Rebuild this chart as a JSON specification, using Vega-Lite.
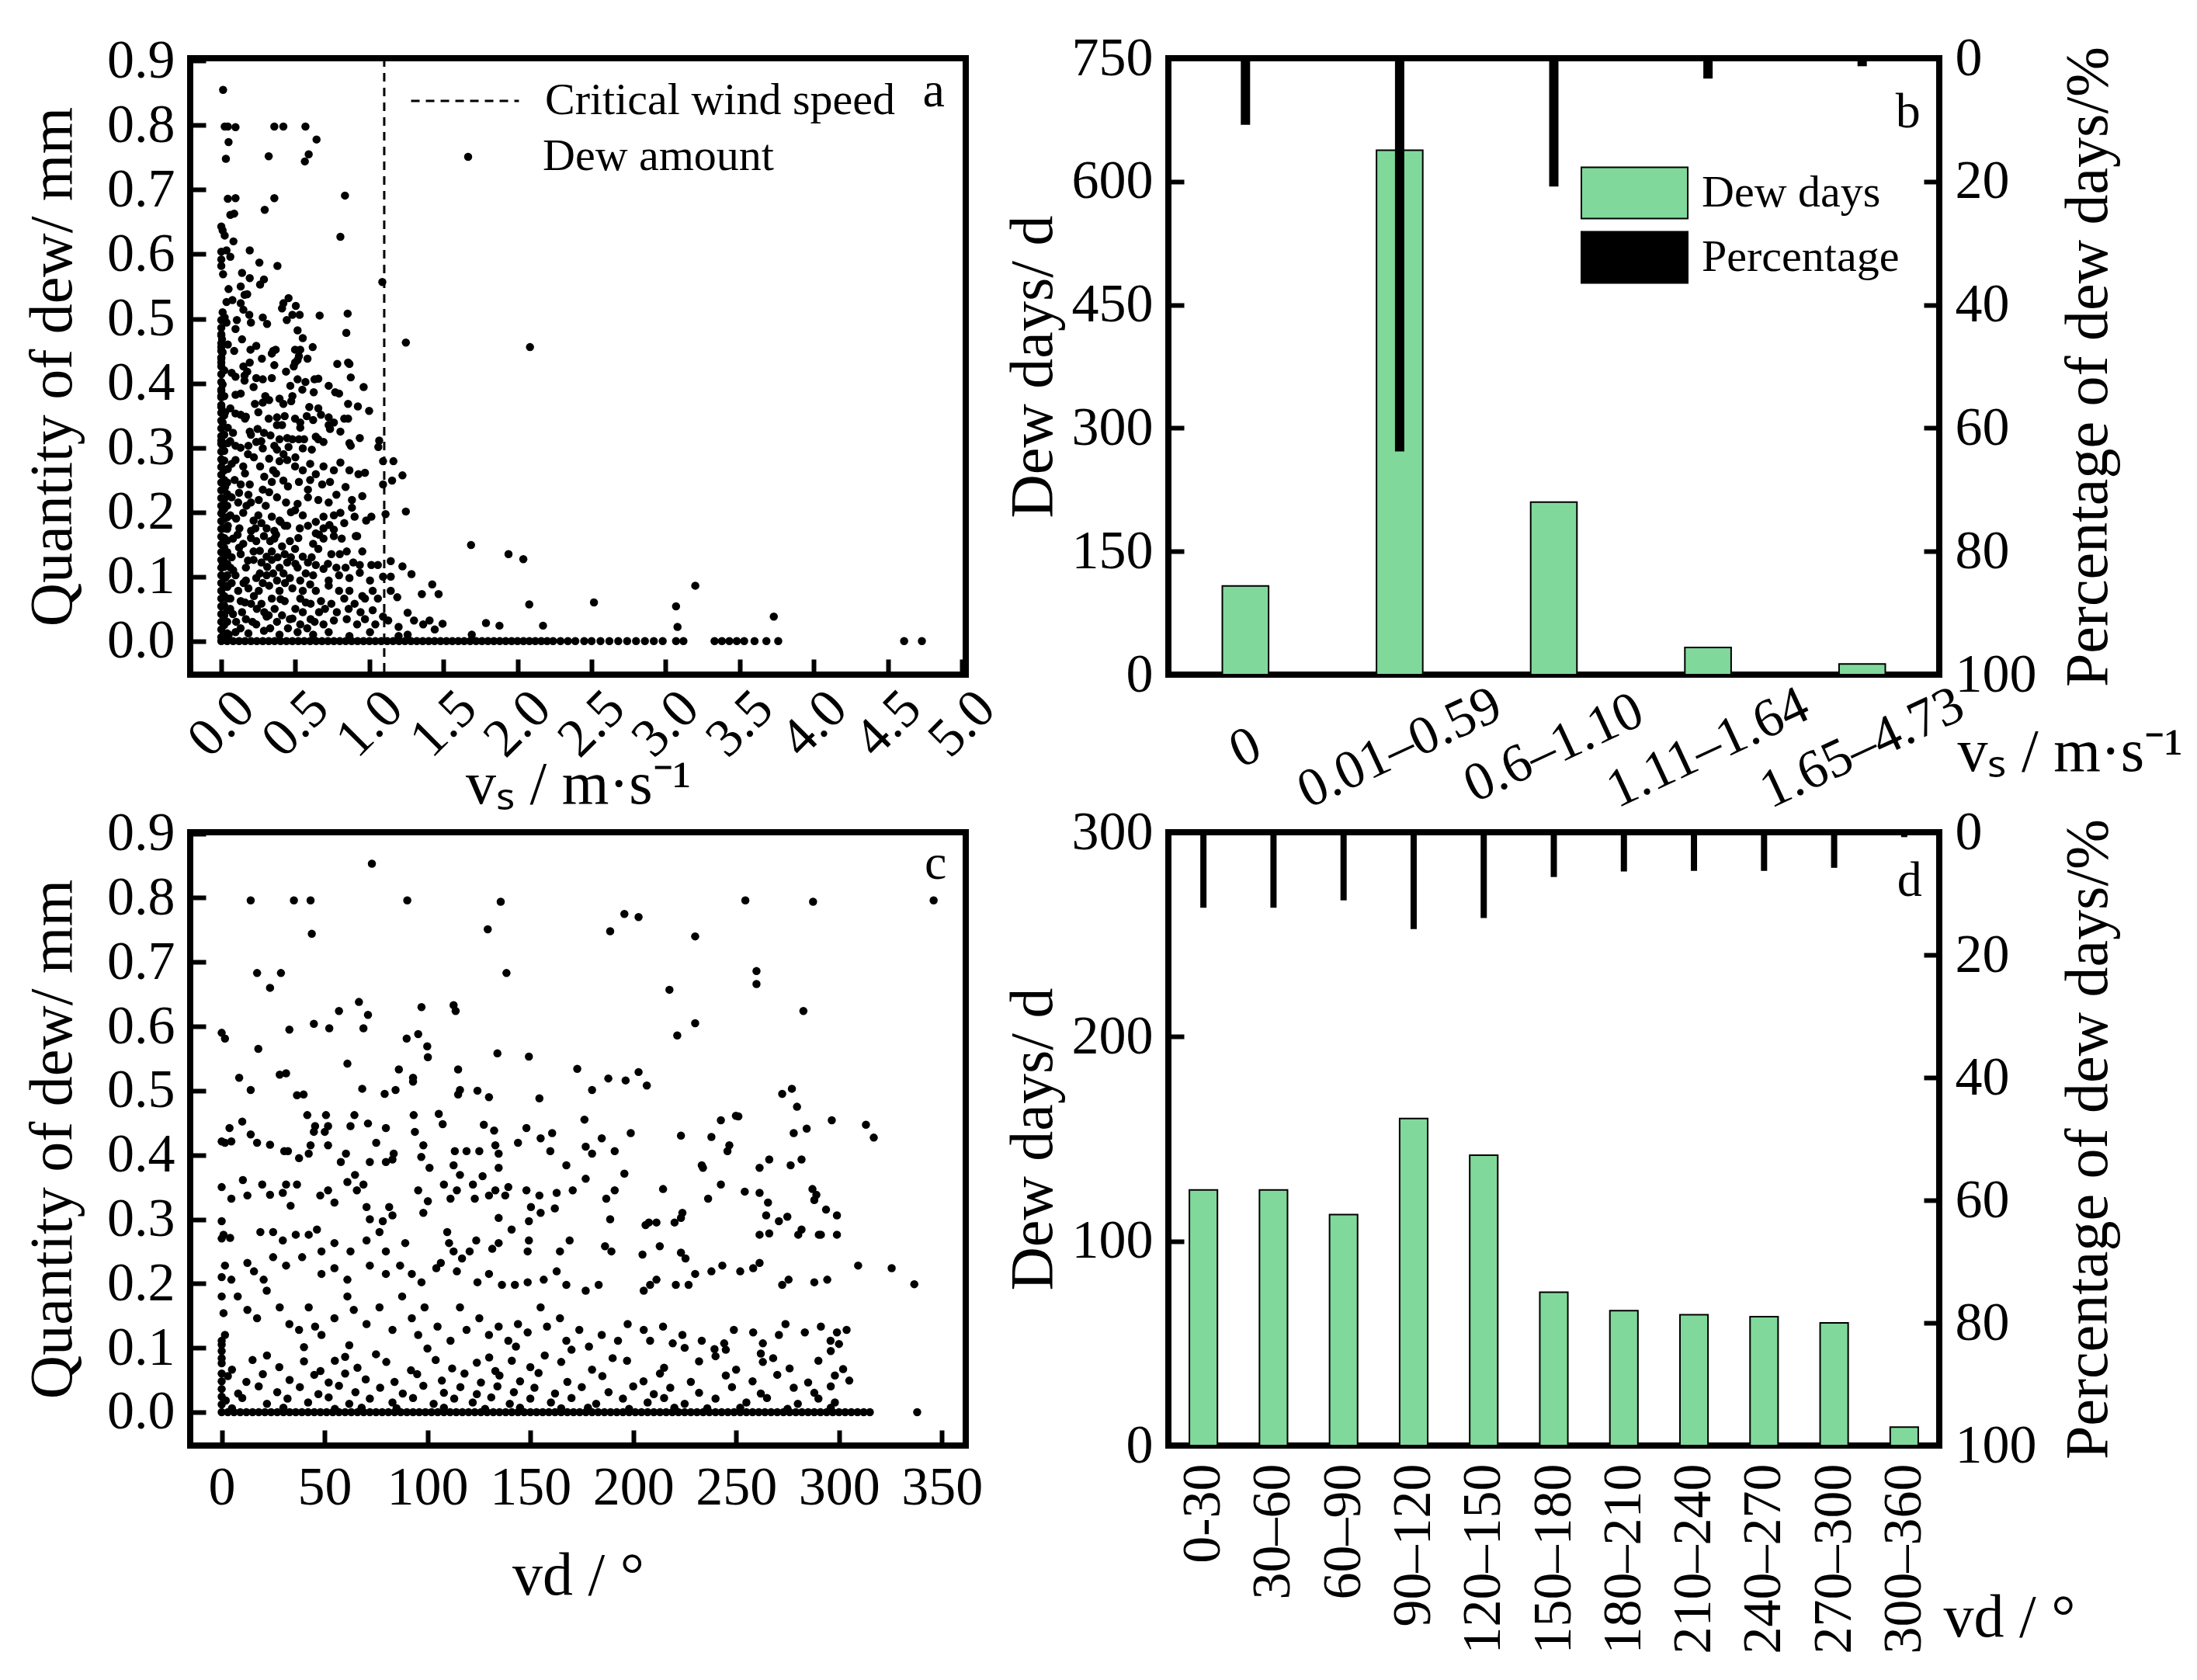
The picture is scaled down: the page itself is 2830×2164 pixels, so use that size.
{
  "$schema": "https://vega.github.io/schema/vega-lite/v6.json",
  "background": "white",
  "padding": {"left": 25, "top": 36, "right": 5, "bottom": 5},
  "config": {
    "font": "Liberation Serif",
    "view": {"stroke": "black", "strokeWidth": 8},
    "axis": {
      "domain": false, "grid": false,
      "labelFont": "Liberation Serif", "labelFontSize": 70, "labelColor": "black",
      "labelOverlap": false, "labelFlush": false, "labelPadding": 40, "labelLimit": 800,
      "tickColor": "black", "tickWidth": 6, "tickSize": -20,
      "titleFont": "Liberation Serif", "titleFontSize": 78, "titleFontWeight": "normal", "titleColor": "black"
    },
    "legend": {"labelFont": "Liberation Serif", "labelFontSize": 58, "labelColor": "black", "labelLimit": 700, "padding": 0},
    "text": {"font": "Liberation Serif", "fontSize": 64, "color": "black"}
  },
  "datasets": {
    "barsB": [
      {"range": "0", "days": 108, "pct": 10.8},
      {"range": "0.01–0.59", "days": 638, "pct": 63.8},
      {"range": "0.6–1.10", "days": 210, "pct": 20.8},
      {"range": "1.11–1.64", "days": 33, "pct": 3.3},
      {"range": "1.65–4.73", "days": 13, "pct": 1.3}
    ],
    "barsD": [
      {"range": "0-30", "days": 125, "pct": 12.3},
      {"range": "30–60", "days": 125, "pct": 12.3},
      {"range": "60–90", "days": 113, "pct": 11.1},
      {"range": "90–120", "days": 160, "pct": 15.8},
      {"range": "120–150", "days": 142, "pct": 14.0},
      {"range": "150–180", "days": 75, "pct": 7.3},
      {"range": "180–210", "days": 66, "pct": 6.4},
      {"range": "210–240", "days": 64, "pct": 6.3},
      {"range": "240–270", "days": 63, "pct": 6.3},
      {"range": "270–300", "days": 60, "pct": 5.8},
      {"range": "300–360", "days": 9, "pct": 0.8}
    ],
    "scatterA": [
      {"vs":0.012,"dew":0.855},{"vs":0.023,"dew":0.798},{"vs":0.044,"dew":0.798},{"vs":0.096,"dew":0.797},{"vs":0.358,"dew":0.798},{"vs":0.419,"dew":0.798},{"vs":0.568,"dew":0.798},{"vs":0.643,"dew":0.778},{"vs":0.049,"dew":0.774},{"vs":0.031,"dew":0.748},{"vs":0.32,"dew":0.752},{"vs":0.59,"dew":0.755},{"vs":0.564,"dew":0.744},{"vs":0.835,"dew":0.691},{"vs":0.044,"dew":0.686},{"vs":0.096,"dew":0.687},{"vs":0.358,"dew":0.687},{"vs":0.293,"dew":0.669},{"vs":0.061,"dew":0.661},{"vs":0.087,"dew":0.663},{"vs":0.804,"dew":0.627},{"vs":0.0,"dew":0.643},{"vs":0.009,"dew":0.637},{"vs":0.023,"dew":0.629},{"vs":0.082,"dew":0.62},{"vs":0.192,"dew":0.606},{"vs":0.0,"dew":0.604},{"vs":0.035,"dew":0.606},{"vs":0.061,"dew":0.596},{"vs":0.0,"dew":0.592},{"vs":0.0,"dew":0.582},{"vs":0.257,"dew":0.587},{"vs":0.379,"dew":0.582},{"vs":0.012,"dew":0.569},{"vs":0.14,"dew":0.571},{"vs":0.192,"dew":0.563},{"vs":0.288,"dew":0.561},{"vs":0.262,"dew":0.553},{"vs":1.087,"dew":0.557},{"vs":0.049,"dew":0.546},{"vs":0.131,"dew":0.55},{"vs":0.157,"dew":0.537},{"vs":0.175,"dew":0.538},{"vs":0.454,"dew":0.532},{"vs":0.419,"dew":0.524},{"vs":0.41,"dew":0.516},{"vs":0.035,"dew":0.526},{"vs":0.075,"dew":0.529},{"vs":0.131,"dew":0.524},{"vs":0.149,"dew":0.514},{"vs":0.503,"dew":0.52},{"vs":0.48,"dew":0.506},{"vs":0.529,"dew":0.506},{"vs":0.664,"dew":0.505},{"vs":0.853,"dew":0.508},{"vs":0.009,"dew":0.51},{"vs":0.023,"dew":0.502},{"vs":0.035,"dew":0.494},{"vs":0.189,"dew":0.506},{"vs":0.2,"dew":0.494},{"vs":0.105,"dew":0.498},{"vs":0.28,"dew":0.502},{"vs":0.309,"dew":0.492},{"vs":0.442,"dew":0.498},{"vs":0.096,"dew":0.484},{"vs":0.515,"dew":0.482},{"vs":0.844,"dew":0.478},{"vs":0.0,"dew":0.476},{"vs":0.005,"dew":0.468},{"vs":0.55,"dew":0.47},{"vs":0.14,"dew":0.468},{"vs":1.246,"dew":0.463},{"vs":2.084,"dew":0.456},
      {"vs":0.0,"dew":0.456},{"vs":0.009,"dew":0.448},{"vs":0.0,"dew":0.44},{"vs":0.0,"dew":0.432},{"vs":0.044,"dew":0.46},{"vs":0.087,"dew":0.45},{"vs":0.197,"dew":0.452},{"vs":0.236,"dew":0.458},{"vs":0.35,"dew":0.45},{"vs":0.367,"dew":0.452},{"vs":0.498,"dew":0.452},{"vs":0.533,"dew":0.452},{"vs":0.617,"dew":0.456},{"vs":0.274,"dew":0.438},{"vs":0.341,"dew":0.446},{"vs":0.524,"dew":0.442},{"vs":0.515,"dew":0.436},{"vs":0.582,"dew":0.438},{"vs":0.358,"dew":0.428},{"vs":0.437,"dew":0.418},{"vs":0.489,"dew":0.426},{"vs":0.498,"dew":0.432},{"vs":0.783,"dew":0.43},{"vs":0.856,"dew":0.432},{"vs":0.865,"dew":0.43},{"vs":0.874,"dew":0.409},{"vs":0.149,"dew":0.426},{"vs":0.192,"dew":0.432},{"vs":0.175,"dew":0.418},{"vs":0.157,"dew":0.412},{"vs":0.157,"dew":0.404},{"vs":0.07,"dew":0.416},{"vs":0.096,"dew":0.41},{"vs":0.236,"dew":0.408},{"vs":0.28,"dew":0.406},{"vs":0.341,"dew":0.408},{"vs":0.515,"dew":0.406},{"vs":0.568,"dew":0.402},{"vs":0.629,"dew":0.406},{"vs":0.655,"dew":0.407},{"vs":0.466,"dew":0.396},{"vs":0.547,"dew":0.39},{"vs":0.624,"dew":0.386},{"vs":0.725,"dew":0.396},{"vs":0.769,"dew":0.386},{"vs":0.795,"dew":0.384},{"vs":0.961,"dew":0.394},{"vs":0.009,"dew":0.398},{"vs":0.0,"dew":0.388},{"vs":0.0,"dew":0.38},{"vs":0.096,"dew":0.382},{"vs":0.131,"dew":0.384},{"vs":0.218,"dew":0.394},{"vs":0.297,"dew":0.38},{"vs":0.323,"dew":0.374},{"vs":0.227,"dew":0.368},{"vs":0.28,"dew":0.37},{"vs":0.393,"dew":0.376},{"vs":0.419,"dew":0.368},{"vs":0.472,"dew":0.372},{"vs":0.48,"dew":0.38},{"vs":0.856,"dew":0.368},{"vs":0.922,"dew":0.364},{"vs":0.998,"dew":0.357},{"vs":0.594,"dew":0.363},{"vs":0.655,"dew":0.361},{"vs":0.0,"dew":0.363},{"vs":0.026,"dew":0.355},{"vs":0.061,"dew":0.361},{"vs":0.096,"dew":0.353},{"vs":0.131,"dew":0.351},{"vs":0.166,"dew":0.348},{"vs":0.376,"dew":0.347},{"vs":0.428,"dew":0.349},{"vs":0.498,"dew":0.345},{"vs":0.533,"dew":0.339},{"vs":0.577,"dew":0.349},{"vs":0.62,"dew":0.343},{"vs":0.673,"dew":0.351},{"vs":0.725,"dew":0.347},{"vs":0.725,"dew":0.335},{"vs":0.76,"dew":0.339},{"vs":0.83,"dew":0.345},{"vs":0.856,"dew":0.345},{"vs":0.376,"dew":0.335},{"vs":0.41,"dew":0.335},{"vs":0.533,"dew":0.331},{"vs":0.009,"dew":0.339},{"vs":0.044,"dew":0.331},{"vs":0.079,"dew":0.323},{"vs":0.192,"dew":0.325},{"vs":0.245,"dew":0.329},{"vs":0.288,"dew":0.323},{"vs":0.332,"dew":0.319},{"vs":0.734,"dew":0.329},{"vs":0.804,"dew":0.325},{"vs":0.935,"dew":0.315},{"vs":0.393,"dew":0.313},{"vs":0.445,"dew":0.315},{"vs":0.48,"dew":0.313},{"vs":0.524,"dew":0.313},{"vs":0.559,"dew":0.313},{"vs":0.638,"dew":0.317},{"vs":0.655,"dew":0.313},{"vs":0.69,"dew":0.309},{"vs":0.865,"dew":0.307},{"vs":0.874,"dew":0.303},{"vs":1.066,"dew":0.311},{"vs":1.06,"dew":0.301},{"vs":0.0,"dew":0.311},{"vs":0.009,"dew":0.303},{"vs":0.044,"dew":0.307},{"vs":0.096,"dew":0.303},{"vs":0.183,"dew":0.303},{"vs":0.236,"dew":0.309},{"vs":0.28,"dew":0.299},{"vs":0.358,"dew":0.303},{"vs":0.376,"dew":0.297},{"vs":0.454,"dew":0.301},{"vs":0.55,"dew":0.299},{"vs":0.611,"dew":0.297},
      {"vs":0.009,"dew":0.279},{"vs":0.044,"dew":0.267},{"vs":0.096,"dew":0.281},{"vs":0.148,"dew":0.271},{"vs":0.262,"dew":0.271},{"vs":0.323,"dew":0.283},{"vs":0.393,"dew":0.279},{"vs":0.445,"dew":0.281},{"vs":0.498,"dew":0.271},{"vs":0.55,"dew":0.265},{"vs":0.638,"dew":0.259},{"vs":0.69,"dew":0.271},{"vs":0.76,"dew":0.265},{"vs":0.804,"dew":0.277},{"vs":0.865,"dew":0.265},{"vs":0.926,"dew":0.259},{"vs":0.97,"dew":0.261},{"vs":1.092,"dew":0.279},{"vs":1.162,"dew":0.279},{"vs":1.092,"dew":0.243},{"vs":1.223,"dew":0.257},{"vs":1.153,"dew":0.249},
      {"vs":0.026,"dew":0.239},{"vs":0.131,"dew":0.243},{"vs":0.192,"dew":0.243},{"vs":0.341,"dew":0.247},{"vs":0.419,"dew":0.249},{"vs":0.524,"dew":0.247},{"vs":0.585,"dew":0.235},{"vs":0.681,"dew":0.243},{"vs":0.734,"dew":0.247},{"vs":0.839,"dew":0.239},{"vs":0.952,"dew":0.225},{"vs":0.07,"dew":0.223},{"vs":0.114,"dew":0.215},{"vs":0.183,"dew":0.227},{"vs":0.253,"dew":0.219},{"vs":0.323,"dew":0.231},{"vs":0.376,"dew":0.223},{"vs":0.437,"dew":0.215},{"vs":0.515,"dew":0.213},{"vs":0.585,"dew":0.223},{"vs":0.655,"dew":0.219},{"vs":0.725,"dew":0.215},{"vs":0.777,"dew":0.227},{"vs":0.882,"dew":0.219},
      {"vs":0.009,"dew":0.203},{"vs":0.061,"dew":0.195},{"vs":0.148,"dew":0.199},{"vs":0.218,"dew":0.187},{"vs":0.271,"dew":0.183},{"vs":0.341,"dew":0.193},{"vs":0.393,"dew":0.187},{"vs":0.428,"dew":0.179},{"vs":0.498,"dew":0.203},{"vs":0.55,"dew":0.195},{"vs":0.638,"dew":0.185},{"vs":0.69,"dew":0.193},{"vs":0.76,"dew":0.195},{"vs":0.804,"dew":0.199},{"vs":0.882,"dew":0.207},{"vs":0.9,"dew":0.193},{"vs":0.978,"dew":0.187},{"vs":1.013,"dew":0.193},{"vs":1.109,"dew":0.197},{"vs":1.246,"dew":0.201},{"vs":0.044,"dew":0.179},{"vs":0.122,"dew":0.175},{"vs":0.201,"dew":0.171},{"vs":0.306,"dew":0.175},{"vs":0.358,"dew":0.171},{"vs":0.445,"dew":0.179},{"vs":0.585,"dew":0.179},{"vs":0.69,"dew":0.175},{"vs":0.76,"dew":0.173},{"vs":0.83,"dew":0.183},{"vs":0.908,"dew":0.163},
      {"vs":0.017,"dew":0.155},{"vs":0.079,"dew":0.159},{"vs":0.148,"dew":0.151},{"vs":0.236,"dew":0.155},{"vs":0.288,"dew":0.163},{"vs":0.358,"dew":0.159},{"vs":0.41,"dew":0.147},{"vs":0.463,"dew":0.155},{"vs":0.62,"dew":0.151},{"vs":0.69,"dew":0.159},{"vs":0.76,"dew":0.163},{"vs":0.813,"dew":0.159},{"vs":0.917,"dew":0.163},{"vs":0.638,"dew":0.167},{"vs":0.131,"dew":0.135},{"vs":0.218,"dew":0.139},{"vs":0.306,"dew":0.131},{"vs":0.341,"dew":0.139},{"vs":0.428,"dew":0.135},{"vs":0.498,"dew":0.143},{"vs":0.55,"dew":0.131},{"vs":0.655,"dew":0.143},{"vs":0.743,"dew":0.135},{"vs":0.847,"dew":0.139},{"vs":0.952,"dew":0.139},{"vs":1.686,"dew":0.149},
      {"vs":0.009,"dew":0.122},{"vs":0.061,"dew":0.114},{"vs":0.166,"dew":0.114},{"vs":0.218,"dew":0.126},{"vs":0.271,"dew":0.122},{"vs":0.341,"dew":0.126},{"vs":0.393,"dew":0.114},{"vs":0.445,"dew":0.122},{"vs":0.515,"dew":0.114},{"vs":0.585,"dew":0.122},{"vs":0.638,"dew":0.118},{"vs":0.69,"dew":0.112},{"vs":0.777,"dew":0.114},{"vs":0.839,"dew":0.114},{"vs":0.891,"dew":0.122},{"vs":0.935,"dew":0.118},{"vs":1.013,"dew":0.118},{"vs":1.057,"dew":0.118},{"vs":1.144,"dew":0.124},{"vs":1.223,"dew":0.116},{"vs":1.284,"dew":0.104},{"vs":1.939,"dew":0.135},{"vs":2.039,"dew":0.127},{"vs":0.026,"dew":0.098},{"vs":0.096,"dew":0.102},{"vs":0.166,"dew":0.094},{"vs":0.236,"dew":0.098},{"vs":0.306,"dew":0.102},{"vs":0.376,"dew":0.094},{"vs":0.463,"dew":0.098},{"vs":0.533,"dew":0.094},{"vs":0.62,"dew":0.102},{"vs":0.725,"dew":0.094},{"vs":0.795,"dew":0.102},{"vs":0.865,"dew":0.098},{"vs":0.935,"dew":0.106},{"vs":1.004,"dew":0.094},{"vs":1.092,"dew":0.1},{"vs":1.144,"dew":0.1},
      {"vs":0.044,"dew":0.086},{"vs":0.114,"dew":0.078},{"vs":0.183,"dew":0.082},{"vs":0.253,"dew":0.078},{"vs":0.323,"dew":0.086},{"vs":0.393,"dew":0.078},{"vs":0.48,"dew":0.082},{"vs":0.55,"dew":0.078},{"vs":0.638,"dew":0.078},{"vs":0.725,"dew":0.086},{"vs":0.795,"dew":0.078},{"vs":0.865,"dew":0.078},{"vs":0.952,"dew":0.07},{"vs":1.022,"dew":0.078},{"vs":1.144,"dew":0.078},{"vs":1.188,"dew":0.068},{"vs":1.424,"dew":0.088},{"vs":1.467,"dew":0.073},{"vs":1.354,"dew":0.073},{"vs":2.079,"dew":0.057},{"vs":2.516,"dew":0.06},{"vs":0.061,"dew":0.066},{"vs":0.131,"dew":0.062},{"vs":0.201,"dew":0.058},{"vs":0.271,"dew":0.058},{"vs":0.341,"dew":0.066},{"vs":0.428,"dew":0.062},{"vs":0.533,"dew":0.066},{"vs":0.603,"dew":0.058},{"vs":0.673,"dew":0.062},{"vs":0.743,"dew":0.058},{"vs":0.83,"dew":0.066},{"vs":0.9,"dew":0.058},{"vs":0.97,"dew":0.066},{"vs":1.022,"dew":0.048},{"vs":1.057,"dew":0.066},
      {"vs":0.079,"dew":0.042},{"vs":0.166,"dew":0.034},{"vs":0.236,"dew":0.026},{"vs":0.306,"dew":0.038},{"vs":0.376,"dew":0.03},{"vs":0.463,"dew":0.034},{"vs":0.533,"dew":0.026},{"vs":0.603,"dew":0.034},{"vs":0.69,"dew":0.026},{"vs":0.76,"dew":0.032},{"vs":0.847,"dew":0.034},{"vs":0.917,"dew":0.026},{"vs":0.97,"dew":0.034},{"vs":1.04,"dew":0.026},{"vs":1.092,"dew":0.038},{"vs":1.127,"dew":0.032},{"vs":1.197,"dew":0.022},{"vs":1.258,"dew":0.044},{"vs":1.301,"dew":0.032},{"vs":1.363,"dew":0.026},{"vs":1.406,"dew":0.032},{"vs":1.494,"dew":0.027},{"vs":1.441,"dew":0.018},{"vs":1.787,"dew":0.028},{"vs":1.878,"dew":0.024},{"vs":2.172,"dew":0.024},{"vs":1.691,"dew":0.01},{"vs":1.197,"dew":0.008},{"vs":1.258,"dew":0.01},{"vs":0.096,"dew":0.014},{"vs":0.183,"dew":0.012},{"vs":0.288,"dew":0.016},{"vs":0.393,"dew":0.01},{"vs":0.515,"dew":0.014},{"vs":0.62,"dew":0.01},{"vs":0.725,"dew":0.014},{"vs":0.865,"dew":0.008},{"vs":1.004,"dew":0.014},
      {"vs":3.2,"dew":0.086},{"vs":3.07,"dew":0.054},{"vs":3.08,"dew":0.022},{"vs":3.73,"dew":0.038},
      {"vs":0.07,"dew":0.13},{"vs":0.12,"dew":0.145},{"vs":0.2,"dew":0.16},{"vs":0.26,"dew":0.14},{"vs":0.31,"dew":0.115},{"vs":0.37,"dew":0.165},{"vs":0.42,"dew":0.105},{"vs":0.47,"dew":0.13},{"vs":0.52,"dew":0.16},{"vs":0.57,"dew":0.105},{"vs":0.06,"dew":0.05},{"vs":0.14,"dew":0.045},{"vs":0.22,"dew":0.07},{"vs":0.29,"dew":0.045},{"vs":0.36,"dew":0.05},{"vs":0.41,"dew":0.04},{"vs":0.5,"dew":0.05},{"vs":0.57,"dew":0.06},{"vs":0.66,"dew":0.045},{"vs":0.13,"dew":0.02},{"vs":0.21,"dew":0.03},{"vs":0.33,"dew":0.02},{"vs":0.45,"dew":0.02},{"vs":0.58,"dew":0.02},{"vs":0.07,"dew":0.09},{"vs":0.15,"dew":0.09},{"vs":0.28,"dew":0.09},{"vs":0.35,"dew":0.105},{"vs":0.43,"dew":0.09},{"vs":0.6,"dew":0.088},{"vs":0.1,"dew":0.19},{"vs":0.17,"dew":0.21},{"vs":0.25,"dew":0.195},{"vs":0.3,"dew":0.21},{"vs":0.47,"dew":0.2},{"vs":0.09,"dew":0.25},{"vs":0.16,"dew":0.26},{"vs":0.22,"dew":0.285},{"vs":0.29,"dew":0.255},{"vs":0.37,"dew":0.26},{"vs":0.06,"dew":0.31},{"vs":0.13,"dew":0.3},{"vs":0.2,"dew":0.32},
      {"vs":0.05,"dew":0.01},{"vs":0.1,"dew":0.03},{"vs":0.16,"dew":0.06},{"vs":0.24,"dew":0.05},{"vs":0.32,"dew":0.04},{"vs":0.4,"dew":0.065},{"vs":0.48,"dew":0.035},{"vs":0.55,"dew":0.045},{"vs":0.63,"dew":0.03},{"vs":0.7,"dew":0.05},{"vs":0.78,"dew":0.045},{"vs":0.86,"dew":0.05},{"vs":0.94,"dew":0.045},{"vs":0.08,"dew":0.11},{"vs":0.18,"dew":0.125},{"vs":0.26,"dew":0.105},{"vs":0.38,"dew":0.13},{"vs":0.5,"dew":0.12},{"vs":0.61,"dew":0.13},{"vs":0.72,"dew":0.12},{"vs":0.8,"dew":0.135},{"vs":0.11,"dew":0.165},{"vs":0.23,"dew":0.175},{"vs":0.33,"dew":0.155},{"vs":0.4,"dew":0.185},{"vs":0.53,"dew":0.175},{"vs":0.66,"dew":0.165},{"vs":0.73,"dew":0.18},{"vs":0.12,"dew":0.23},{"vs":0.2,"dew":0.215},{"vs":0.28,"dew":0.235},{"vs":0.45,"dew":0.24},{"vs":0.6,"dew":0.25},{"vs":0.35,"dew":0.265},{"vs":0.07,"dew":0.275},{"vs":0.18,"dew":0.29},{"vs":0.27,"dew":0.31},{"vs":0.42,"dew":0.29},{"vs":0.5,"dew":0.285},{"vs":0.6,"dew":0.275},{"vs":0.16,"dew":0.345},{"vs":0.25,"dew":0.355},{"vs":0.32,"dew":0.345},
      {"vs":0,"dew":0.006},{"vs":0,"dew":0.018},{"vs":0,"dew":0.03},{"vs":0,"dew":0.042},{"vs":0,"dew":0.054},{"vs":0,"dew":0.066},{"vs":0,"dew":0.078},{"vs":0,"dew":0.09},{"vs":0,"dew":0.102},{"vs":0,"dew":0.114},{"vs":0,"dew":0.126},{"vs":0,"dew":0.138},{"vs":0,"dew":0.15},{"vs":0,"dew":0.162},{"vs":0,"dew":0.174},{"vs":0,"dew":0.186},{"vs":0,"dew":0.198},{"vs":0,"dew":0.21},{"vs":0,"dew":0.222},{"vs":0,"dew":0.234},{"vs":0,"dew":0.246},{"vs":0,"dew":0.258},{"vs":0,"dew":0.27},{"vs":0,"dew":0.282},{"vs":0,"dew":0.294},{"vs":0,"dew":0.306},{"vs":0,"dew":0.318},{"vs":0,"dew":0.33},{"vs":0,"dew":0.342},{"vs":0,"dew":0.354},{"vs":0,"dew":0.366},{"vs":0,"dew":0.378},{"vs":0,"dew":0.39},{"vs":0,"dew":0.402},{"vs":0,"dew":0.414},{"vs":0,"dew":0.426},{"vs":0,"dew":0.438},{"vs":0,"dew":0.45},{"vs":0,"dew":0.462},{"vs":0,"dew":0.474},{"vs":0,"dew":0.486},{"vs":0,"dew":0.498},
      {"vs":0.02,"dew":0.01},{"vs":0.02,"dew":0.025},{"vs":0.02,"dew":0.04},{"vs":0.02,"dew":0.055},{"vs":0.02,"dew":0.07},{"vs":0.02,"dew":0.085},{"vs":0.02,"dew":0.1},{"vs":0.02,"dew":0.115},{"vs":0.02,"dew":0.13},{"vs":0.02,"dew":0.145},{"vs":0.02,"dew":0.16},{"vs":0.02,"dew":0.175},{"vs":0.02,"dew":0.19},{"vs":0.02,"dew":0.205},{"vs":0.02,"dew":0.22},{"vs":0.02,"dew":0.235},{"vs":0.02,"dew":0.25},{"vs":0.02,"dew":0.265},{"vs":0.02,"dew":0.28},{"vs":0.02,"dew":0.295},{"vs":0.02,"dew":0.32},{"vs":0.02,"dew":0.35},{"vs":0.02,"dew":0.38},{"vs":0.02,"dew":0.42},
      {"vs":0.04,"dew":0.012},{"vs":0.04,"dew":0.03},{"vs":0.04,"dew":0.048},{"vs":0.04,"dew":0.066},{"vs":0.04,"dew":0.084},{"vs":0.04,"dew":0.102},{"vs":0.04,"dew":0.12},{"vs":0.04,"dew":0.138},{"vs":0.04,"dew":0.156},{"vs":0.04,"dew":0.174},{"vs":0.04,"dew":0.192},{"vs":0.04,"dew":0.21},{"vs":0.04,"dew":0.228},{"vs":0.04,"dew":0.246},
      {"vs":0,"dew":0},{"vs":0.04,"dew":0},{"vs":0.08,"dew":0},{"vs":0.12,"dew":0},{"vs":0.16,"dew":0},{"vs":0.2,"dew":0},{"vs":0.24,"dew":0},{"vs":0.28,"dew":0},{"vs":0.32,"dew":0},{"vs":0.36,"dew":0},{"vs":0.4,"dew":0},{"vs":0.44,"dew":0},{"vs":0.48,"dew":0},{"vs":0.52,"dew":0},{"vs":0.56,"dew":0},{"vs":0.6,"dew":0},{"vs":0.64,"dew":0},{"vs":0.68,"dew":0},{"vs":0.72,"dew":0},{"vs":0.76,"dew":0},{"vs":0.8,"dew":0},{"vs":0.84,"dew":0},{"vs":0.88,"dew":0},{"vs":0.92,"dew":0},{"vs":0.96,"dew":0},{"vs":1.0,"dew":0},{"vs":1.04,"dew":0},{"vs":1.08,"dew":0},{"vs":1.12,"dew":0},{"vs":1.16,"dew":0},{"vs":1.2,"dew":0},{"vs":1.24,"dew":0},{"vs":1.28,"dew":0},{"vs":1.32,"dew":0},{"vs":1.36,"dew":0},{"vs":1.4,"dew":0},{"vs":1.44,"dew":0},{"vs":1.48,"dew":0},{"vs":1.52,"dew":0},{"vs":1.56,"dew":0},{"vs":1.6,"dew":0},{"vs":1.64,"dew":0},{"vs":1.68,"dew":0},{"vs":1.72,"dew":0},{"vs":1.76,"dew":0},{"vs":1.8,"dew":0},{"vs":1.84,"dew":0},{"vs":1.88,"dew":0},{"vs":1.92,"dew":0},{"vs":1.96,"dew":0},{"vs":2.0,"dew":0},{"vs":2.04,"dew":0},{"vs":2.08,"dew":0},{"vs":2.12,"dew":0},{"vs":2.16,"dew":0},{"vs":2.2,"dew":0},{"vs":2.24,"dew":0},{"vs":2.29,"dew":0},{"vs":2.34,"dew":0},{"vs":2.39,"dew":0},{"vs":2.45,"dew":0},{"vs":2.5,"dew":0},{"vs":2.56,"dew":0},{"vs":2.62,"dew":0},{"vs":2.68,"dew":0},{"vs":2.74,"dew":0},{"vs":2.8,"dew":0},{"vs":2.86,"dew":0},{"vs":2.92,"dew":0},{"vs":2.98,"dew":0},{"vs":3.07,"dew":0},{"vs":3.12,"dew":0},{"vs":3.33,"dew":0},{"vs":3.38,"dew":0},{"vs":3.43,"dew":0},{"vs":3.48,"dew":0},{"vs":3.53,"dew":0},{"vs":3.6,"dew":0},{"vs":3.68,"dew":0},{"vs":3.76,"dew":0},{"vs":4.61,"dew":0},{"vs":4.73,"dew":0}
    ],
    "scatterC": [
      {"vd":73,"dew":0.853},{"vd":14.1,"dew":0.796},{"vd":35.1,"dew":0.796},{"vd":43.2,"dew":0.796},{"vd":90.2,"dew":0.796},{"vd":135.6,"dew":0.794},{"vd":254.5,"dew":0.796},{"vd":287.4,"dew":0.794},{"vd":346,"dew":0.796},{"vd":43.8,"dew":0.744},{"vd":129.3,"dew":0.751},{"vd":188.8,"dew":0.748},{"vd":195.7,"dew":0.775},{"vd":202.6,"dew":0.77},{"vd":230.1,"dew":0.74},{"vd":17.2,"dew":0.683},{"vd":28.8,"dew":0.683},{"vd":23.5,"dew":0.66},{"vd":138.4,"dew":0.683},{"vd":259.9,"dew":0.686},{"vd":259.9,"dew":0.666},{"vd":217.6,"dew":0.657},{"vd":66.7,"dew":0.638},{"vd":71.1,"dew":0.618},{"vd":68.9,"dew":0.597},{"vd":112.7,"dew":0.633},{"vd":113.7,"dew":0.624},{"vd":97.1,"dew":0.63},{"vd":57,"dew":0.624},{"vd":52.3,"dew":0.597},{"vd":44.8,"dew":0.604},{"vd":32.9,"dew":0.595},{"vd":230.1,"dew":0.605},{"vd":221.4,"dew":0.586},{"vd":282.7,"dew":0.624},{"vd":0,"dew":0.59},{"vd":1.6,"dew":0.581},{"vd":17.8,"dew":0.565},{"vd":89.9,"dew":0.581},{"vd":95.5,"dew":0.588},{"vd":99.9,"dew":0.569},{"vd":100.2,"dew":0.552},{"vd":134,"dew":0.558},{"vd":149.3,"dew":0.553},{"vd":114.9,"dew":0.533},{"vd":61.1,"dew":0.542},{"vd":86.1,"dew":0.533},{"vd":93,"dew":0.52},{"vd":93,"dew":0.514},{"vd":8.5,"dew":0.52},{"vd":14.1,"dew":0.501},{"vd":28.2,"dew":0.525},{"vd":31.3,"dew":0.527},{"vd":68.3,"dew":0.503},{"vd":79.2,"dew":0.495},{"vd":84.5,"dew":0.501},{"vd":124.3,"dew":0.5},{"vd":115.8,"dew":0.501},{"vd":114.9,"dew":0.494},{"vd":129.9,"dew":0.49},{"vd":154.4,"dew":0.488},{"vd":172.8,"dew":0.534},{"vd":180,"dew":0.501},{"vd":187.9,"dew":0.519},{"vd":196.3,"dew":0.516},{"vd":202.6,"dew":0.529},{"vd":206.6,"dew":0.508},{"vd":272.4,"dew":0.495},{"vd":277.1,"dew":0.503},{"vd":279.6,"dew":0.475},{"vd":251.1,"dew":0.46},{"vd":10,"dew":0.452},{"vd":3.8,"dew":0.442},{"vd":4.7,"dew":0.421},{"vd":0,"dew":0.421},{"vd":1.6,"dew":0.419},{"vd":36.6,"dew":0.493},{"vd":39.8,"dew":0.494},{"vd":41.6,"dew":0.462},{"vd":45.4,"dew":0.445},{"vd":44.8,"dew":0.436},{"vd":50.7,"dew":0.462},{"vd":51.7,"dew":0.445},{"vd":50.1,"dew":0.436},{"vd":64.5,"dew":0.462},{"vd":62.6,"dew":0.445},{"vd":71.1,"dew":0.449},{"vd":79.8,"dew":0.442},{"vd":93.3,"dew":0.462},{"vd":93.9,"dew":0.436},{"vd":98,"dew":0.415},{"vd":105.5,"dew":0.464},{"vd":107.4,"dew":0.448},{"vd":127.4,"dew":0.447},{"vd":132.4,"dew":0.438},{"vd":148.1,"dew":0.442},{"vd":160.6,"dew":0.434},{"vd":155,"dew":0.426},{"vd":144,"dew":0.419},{"vd":176.3,"dew":0.455},{"vd":184.7,"dew":0.426},{"vd":198.8,"dew":0.434},{"vd":223.2,"dew":0.43},{"vd":233.9,"dew":0.38},{"vd":238,"dew":0.428},{"vd":242.6,"dew":0.454},{"vd":249.9,"dew":0.461},{"vd":245.8,"dew":0.406},{"vd":278,"dew":0.434},{"vd":284.3,"dew":0.441},{"vd":296.5,"dew":0.454},{"vd":313.1,"dew":0.447},{"vd":316.9,"dew":0.427},{"vd":14.1,"dew":0.432},{"vd":17.2,"dew":0.419},{"vd":23.5,"dew":0.416},{"vd":30.4,"dew":0.406},{"vd":32.2,"dew":0.406},{"vd":37.6,"dew":0.395},{"vd":43.2,"dew":0.415},{"vd":42.3,"dew":0.402},{"vd":51.7,"dew":0.415},{"vd":57.9,"dew":0.389},{"vd":60.4,"dew":0.402},{"vd":72,"dew":0.389},{"vd":75.1,"dew":0.419},{"vd":79.8,"dew":0.389},{"vd":83,"dew":0.393},{"vd":83.6,"dew":0.402},{"vd":97,"dew":0.397},{"vd":101,"dew":0.38},{"vd":113.3,"dew":0.406},{"vd":112.7,"dew":0.384},{"vd":119,"dew":0.406},{"vd":125.2,"dew":0.406},{"vd":133,"dew":0.415},{"vd":134.6,"dew":0.402},{"vd":134.6,"dew":0.38},{"vd":159.7,"dew":0.406},{"vd":167.5,"dew":0.384},{"vd":176.9,"dew":0.413},{"vd":180,"dew":0.402},{"vd":191,"dew":0.406},{"vd":246.7,"dew":0.415},{"vd":261.4,"dew":0.38},{"vd":266.1,"dew":0.393},{"vd":276.5,"dew":0.384},{"vd":281.8,"dew":0.393},
      {"vd":0,"dew":0.35},{"vd":4.7,"dew":0.332},{"vd":10.3,"dew":0.361},{"vd":12.5,"dew":0.337},{"vd":19.7,"dew":0.354},{"vd":23.5,"dew":0.338},{"vd":29.7,"dew":0.341},{"vd":31.3,"dew":0.354},{"vd":36.6,"dew":0.354},{"vd":33.5,"dew":0.321},{"vd":47.9,"dew":0.337},{"vd":51.7,"dew":0.345},{"vd":54.8,"dew":0.326},{"vd":61.1,"dew":0.358},{"vd":65.7,"dew":0.345},{"vd":68.9,"dew":0.354},{"vd":64.8,"dew":0.369},{"vd":70.4,"dew":0.319},{"vd":72,"dew":0.3},{"vd":78.3,"dew":0.297},{"vd":81.4,"dew":0.319},{"vd":83,"dew":0.306},{"vd":95.5,"dew":0.345},{"vd":100.2,"dew":0.328},{"vd":98,"dew":0.31},{"vd":108,"dew":0.354},{"vd":111.2,"dew":0.332},{"vd":114.3,"dew":0.345},{"vd":115.8,"dew":0.369},{"vd":122.1,"dew":0.354},{"vd":123,"dew":0.332},{"vd":126.8,"dew":0.367},{"vd":129.9,"dew":0.337},{"vd":133,"dew":0.345},{"vd":137.8,"dew":0.337},{"vd":139.3,"dew":0.35},{"vd":134.6,"dew":0.302},{"vd":148.1,"dew":0.345},{"vd":150.3,"dew":0.319},{"vd":149.3,"dew":0.297},{"vd":155,"dew":0.31},{"vd":154.4,"dew":0.337},{"vd":161.9,"dew":0.317},{"vd":162.8,"dew":0.341},{"vd":170.6,"dew":0.345},{"vd":176.9,"dew":0.363},{"vd":186.9,"dew":0.332},{"vd":191,"dew":0.345},{"vd":195.7,"dew":0.371},{"vd":188.8,"dew":0.3},{"vd":214.5,"dew":0.347},{"vd":211.3,"dew":0.295},{"vd":207.6,"dew":0.295},{"vd":206,"dew":0.291},{"vd":220.1,"dew":0.295},{"vd":223.2,"dew":0.302},{"vd":223.9,"dew":0.31},{"vd":233.3,"dew":0.384},{"vd":236.4,"dew":0.332},{"vd":242.6,"dew":0.354},{"vd":254.2,"dew":0.343},{"vd":261.4,"dew":0.341},{"vd":265.5,"dew":0.326},{"vd":264.6,"dew":0.306},{"vd":270.8,"dew":0.297},{"vd":274.9,"dew":0.304},{"vd":281.8,"dew":0.284},{"vd":287.1,"dew":0.347},{"vd":289,"dew":0.338},{"vd":288,"dew":0.33},{"vd":293.7,"dew":0.315},{"vd":299,"dew":0.306},{"vd":290.2,"dew":0.276},
      {"vd":0,"dew":0.297},{"vd":0.9,"dew":0.276},{"vd":4.1,"dew":0.271},{"vd":18.8,"dew":0.28},{"vd":25,"dew":0.28},{"vd":29.7,"dew":0.267},{"vd":36,"dew":0.276},{"vd":42.3,"dew":0.276},{"vd":46.3,"dew":0.284},{"vd":54.8,"dew":0.263},{"vd":62.6,"dew":0.25},{"vd":48.5,"dew":0.25},{"vd":70.4,"dew":0.267},{"vd":76.7,"dew":0.28},{"vd":89.2,"dew":0.263},{"vd":79.8,"dew":0.25},{"vd":109.6,"dew":0.28},{"vd":110.5,"dew":0.263},{"vd":112.7,"dew":0.25},{"vd":106.5,"dew":0.232},{"vd":116.8,"dew":0.239},{"vd":120.5,"dew":0.25},{"vd":123.7,"dew":0.267},{"vd":131.5,"dew":0.254},{"vd":134.6,"dew":0.263},{"vd":140.9,"dew":0.284},{"vd":149.3,"dew":0.267},{"vd":148.7,"dew":0.25},{"vd":169.1,"dew":0.267},{"vd":164.4,"dew":0.25},{"vd":186.3,"dew":0.258},{"vd":189.4,"dew":0.25},{"vd":204.5,"dew":0.245},{"vd":212.9,"dew":0.258},{"vd":223.2,"dew":0.248},{"vd":225.4,"dew":0.239},{"vd":230.1,"dew":0.215},{"vd":261.4,"dew":0.276},{"vd":266.1,"dew":0.278},{"vd":280.2,"dew":0.276},{"vd":291.2,"dew":0.276},{"vd":299,"dew":0.276},{"vd":309.3,"dew":0.228},{"vd":325.6,"dew":0.224},{"vd":336.6,"dew":0.199},{"vd":1.6,"dew":0.228},{"vd":4.7,"dew":0.206},{"vd":12.5,"dew":0.232},{"vd":15.7,"dew":0.219},{"vd":20.4,"dew":0.206},{"vd":25,"dew":0.241},{"vd":31.3,"dew":0.228},{"vd":39.1,"dew":0.241},{"vd":48.5,"dew":0.215},{"vd":54.8,"dew":0.224},{"vd":61.1,"dew":0.206},{"vd":72,"dew":0.228},{"vd":79.8,"dew":0.215},{"vd":86.7,"dew":0.228},{"vd":92.4,"dew":0.215},{"vd":97.1,"dew":0.202},{"vd":104.3,"dew":0.224},{"vd":114.3,"dew":0.219},{"vd":124.3,"dew":0.202},{"vd":129.9,"dew":0.215},{"vd":136.2,"dew":0.198},{"vd":142.5,"dew":0.198},{"vd":148.7,"dew":0.202},{"vd":156.5,"dew":0.206},{"vd":162.8,"dew":0.219},{"vd":167.5,"dew":0.198},{"vd":183.2,"dew":0.198},{"vd":176.9,"dew":0.189},{"vd":205.1,"dew":0.189},{"vd":208.2,"dew":0.198},{"vd":211.3,"dew":0.206},{"vd":220.7,"dew":0.198},{"vd":226.9,"dew":0.198},{"vd":238,"dew":0.219},{"vd":243.3,"dew":0.228},{"vd":252,"dew":0.219},{"vd":258.3,"dew":0.224},{"vd":261.4,"dew":0.232},{"vd":272.4,"dew":0.198},{"vd":275.5,"dew":0.206},{"vd":288,"dew":0.202},{"vd":294.3,"dew":0.206},
      {"vd":0,"dew":0.18},{"vd":0.9,"dew":0.154},{"vd":1.6,"dew":0.12},{"vd":0,"dew":0.111},{"vd":7.8,"dew":0.18},{"vd":12.5,"dew":0.159},{"vd":17.2,"dew":0.146},{"vd":21.9,"dew":0.189},{"vd":28.2,"dew":0.163},{"vd":32.9,"dew":0.137},{"vd":37.6,"dew":0.128},{"vd":42.3,"dew":0.163},{"vd":45.4,"dew":0.133},{"vd":48.5,"dew":0.12},{"vd":54.8,"dew":0.146},{"vd":61.1,"dew":0.18},{"vd":64.2,"dew":0.159},{"vd":70.4,"dew":0.137},{"vd":76.7,"dew":0.163},{"vd":83,"dew":0.128},{"vd":87.7,"dew":0.18},{"vd":92.4,"dew":0.146},{"vd":95.5,"dew":0.12},{"vd":98.6,"dew":0.163},{"vd":104.9,"dew":0.133},{"vd":111.2,"dew":0.111},{"vd":115.8,"dew":0.163},{"vd":119,"dew":0.128},{"vd":125.2,"dew":0.146},{"vd":129.9,"dew":0.12},{"vd":134.6,"dew":0.133},{"vd":139.3,"dew":0.111},{"vd":144,"dew":0.137},{"vd":148.7,"dew":0.124},{"vd":155,"dew":0.163},{"vd":158.1,"dew":0.133},{"vd":164.4,"dew":0.146},{"vd":167.5,"dew":0.111},{"vd":173.8,"dew":0.128},{"vd":178.5,"dew":0.102},{"vd":184.7,"dew":0.12},{"vd":192.6,"dew":0.111},{"vd":197.3,"dew":0.137},{"vd":205.1,"dew":0.128},{"vd":208.2,"dew":0.111},{"vd":214.5,"dew":0.133},{"vd":219.2,"dew":0.107},{"vd":223.9,"dew":0.12},{"vd":233.3,"dew":0.111},{"vd":239.5,"dew":0.098},{"vd":244.2,"dew":0.107},{"vd":248.9,"dew":0.128},{"vd":258.3,"dew":0.124},{"vd":263,"dew":0.107},{"vd":270.8,"dew":0.12},{"vd":274,"dew":0.137},{"vd":283.4,"dew":0.124},{"vd":291.2,"dew":0.133},{"vd":295.9,"dew":0.111},{"vd":299,"dew":0.124},{"vd":303.7,"dew":0.128},
      {"vd":0,"dew":0.095},{"vd":22,"dew":0.088},{"vd":40,"dew":0.101},{"vd":60,"dew":0.086},{"vd":62,"dew":0.104},{"vd":75,"dew":0.09},{"vd":100,"dew":0.099},{"vd":130,"dew":0.085},{"vd":143,"dew":0.102},{"vd":157,"dew":0.088},{"vd":170,"dew":0.097},{"vd":190,"dew":0.084},{"vd":225,"dew":0.1},{"vd":240,"dew":0.087},{"vd":245,"dew":0.097},{"vd":262,"dew":0.091},{"vd":268,"dew":0.084},{"vd":296,"dew":0.095},{"vd":300,"dew":0.106},
      {"vd":0,"dew":0.076},{"vd":5,"dew":0.066},{"vd":15,"dew":0.081},{"vd":28,"dew":0.07},{"vd":40,"dew":0.079},{"vd":48,"dew":0.064},{"vd":55,"dew":0.08},{"vd":66,"dew":0.069},{"vd":80,"dew":0.078},{"vd":92,"dew":0.065},{"vd":104,"dew":0.081},{"vd":112,"dew":0.068},{"vd":124,"dew":0.077},{"vd":133,"dew":0.064},{"vd":141,"dew":0.08},{"vd":150,"dew":0.07},{"vd":165,"dew":0.078},{"vd":180,"dew":0.066},{"vd":197,"dew":0.08},{"vd":215,"dew":0.069},{"vd":232,"dew":0.079},{"vd":250,"dew":0.066},{"vd":263,"dew":0.078},{"vd":276,"dew":0.068},{"vd":290,"dew":0.08},{"vd":302,"dew":0.067},
      {"vd":3,"dew":0.056},{"vd":12,"dew":0.047},{"vd":20,"dew":0.059},{"vd":33,"dew":0.05},{"vd":45,"dew":0.058},{"vd":52,"dew":0.046},{"vd":60,"dew":0.06},{"vd":70,"dew":0.051},{"vd":84,"dew":0.047},{"vd":95,"dew":0.059},{"vd":107,"dew":0.049},{"vd":118,"dew":0.06},{"vd":126,"dew":0.046},{"vd":135,"dew":0.057},{"vd":145,"dew":0.048},{"vd":154,"dew":0.061},{"vd":168,"dew":0.047},{"vd":185,"dew":0.056},{"vd":205,"dew":0.048},{"vd":213,"dew":0.06},{"vd":228,"dew":0.047},{"vd":245,"dew":0.057},{"vd":258,"dew":0.048},{"vd":270,"dew":0.058},{"vd":285,"dew":0.046},{"vd":298,"dew":0.057},{"vd":305,"dew":0.049},
      {"vd":0,"dew":0.036},{"vd":8,"dew":0.029},{"vd":18,"dew":0.04},{"vd":27,"dew":0.031},{"vd":38,"dew":0.039},{"vd":47,"dew":0.028},{"vd":57,"dew":0.041},{"vd":65,"dew":0.031},{"vd":77,"dew":0.038},{"vd":88,"dew":0.029},{"vd":98,"dew":0.041},{"vd":108,"dew":0.03},{"vd":116,"dew":0.039},{"vd":124,"dew":0.028},{"vd":134,"dew":0.04},{"vd":142,"dew":0.031},{"vd":152,"dew":0.038},{"vd":162,"dew":0.029},{"vd":175,"dew":0.039},{"vd":188,"dew":0.031},{"vd":200,"dew":0.04},{"vd":210,"dew":0.028},{"vd":218,"dew":0.038},{"vd":232,"dew":0.03},{"vd":248,"dew":0.039},{"vd":262,"dew":0.029},{"vd":278,"dew":0.038},{"vd":288,"dew":0.03},{"vd":296,"dew":0.04},
      {"vd":2,"dew":0.018},{"vd":10,"dew":0.022},{"vd":22,"dew":0.013},{"vd":32,"dew":0.021},{"vd":42,"dew":0.015},{"vd":52,"dew":0.023},{"vd":62,"dew":0.013},{"vd":72,"dew":0.021},{"vd":83,"dew":0.015},{"vd":93,"dew":0.022},{"vd":103,"dew":0.013},{"vd":113,"dew":0.021},{"vd":122,"dew":0.015},{"vd":131,"dew":0.023},{"vd":140,"dew":0.013},{"vd":150,"dew":0.021},{"vd":160,"dew":0.015},{"vd":170,"dew":0.022},{"vd":182,"dew":0.013},{"vd":195,"dew":0.021},{"vd":207,"dew":0.015},{"vd":215,"dew":0.022},{"vd":225,"dew":0.013},{"vd":240,"dew":0.021},{"vd":255,"dew":0.015},{"vd":265,"dew":0.022},{"vd":280,"dew":0.013},{"vd":290,"dew":0.021},{"vd":298,"dew":0.015},
      {"vd":5,"dew":0.006},{"vd":30,"dew":0.007},{"vd":55,"dew":0.005},{"vd":68,"dew":0.007},{"vd":85,"dew":0.006},{"vd":108,"dew":0.007},{"vd":128,"dew":0.005},{"vd":145,"dew":0.007},{"vd":165,"dew":0.006},{"vd":178,"dew":0.007},{"vd":198,"dew":0.005},{"vd":220,"dew":0.007},{"vd":236,"dew":0.006},{"vd":252,"dew":0.007},{"vd":275,"dew":0.005},{"vd":296,"dew":0.007},
      {"vd":0,"dew":0.012},{"vd":0,"dew":0.024},{"vd":0,"dew":0.048},{"vd":0,"dew":0.06},{"vd":0,"dew":0.084},{"vd":0,"dew":0.105},{"vd":0,"dew":0.21},{"vd":0,"dew":0.27},
      {"vd":0,"dew":0},{"vd":3,"dew":0},{"vd":6,"dew":0},{"vd":9,"dew":0},{"vd":12,"dew":0},{"vd":15,"dew":0},{"vd":18,"dew":0},{"vd":21,"dew":0},{"vd":24,"dew":0},{"vd":27,"dew":0},{"vd":30,"dew":0},{"vd":33,"dew":0},{"vd":36,"dew":0},{"vd":39,"dew":0},{"vd":42,"dew":0},{"vd":45,"dew":0},{"vd":48,"dew":0},{"vd":51,"dew":0},{"vd":54,"dew":0},{"vd":57,"dew":0},{"vd":60,"dew":0},{"vd":63,"dew":0},{"vd":66,"dew":0},{"vd":69,"dew":0},{"vd":72,"dew":0},{"vd":75,"dew":0},{"vd":78,"dew":0},{"vd":81,"dew":0},{"vd":84,"dew":0},{"vd":87,"dew":0},{"vd":90,"dew":0},{"vd":93,"dew":0},{"vd":96,"dew":0},{"vd":99,"dew":0},{"vd":102,"dew":0},{"vd":105,"dew":0},{"vd":108,"dew":0},{"vd":111,"dew":0},{"vd":114,"dew":0},{"vd":117,"dew":0},{"vd":120,"dew":0},{"vd":123,"dew":0},{"vd":126,"dew":0},{"vd":129,"dew":0},{"vd":132,"dew":0},{"vd":135,"dew":0},{"vd":138,"dew":0},{"vd":141,"dew":0},{"vd":144,"dew":0},{"vd":147,"dew":0},{"vd":150,"dew":0},{"vd":153,"dew":0},{"vd":156,"dew":0},{"vd":159,"dew":0},{"vd":162,"dew":0},{"vd":165,"dew":0},{"vd":168,"dew":0},{"vd":171,"dew":0},{"vd":174,"dew":0},{"vd":177,"dew":0},{"vd":180,"dew":0},{"vd":183,"dew":0},{"vd":186,"dew":0},{"vd":189,"dew":0},{"vd":192,"dew":0},{"vd":195,"dew":0},{"vd":198,"dew":0},{"vd":201,"dew":0},{"vd":204,"dew":0},{"vd":207,"dew":0},{"vd":210,"dew":0},{"vd":213,"dew":0},{"vd":216,"dew":0},{"vd":219,"dew":0},{"vd":222,"dew":0},{"vd":225,"dew":0},{"vd":228,"dew":0},{"vd":231,"dew":0},{"vd":234,"dew":0},{"vd":237,"dew":0},{"vd":240,"dew":0},{"vd":243,"dew":0},{"vd":246,"dew":0},{"vd":249,"dew":0},{"vd":252,"dew":0},{"vd":255,"dew":0},{"vd":258,"dew":0},{"vd":261,"dew":0},{"vd":264,"dew":0},{"vd":267,"dew":0},{"vd":270,"dew":0},{"vd":273,"dew":0},{"vd":276,"dew":0},{"vd":279,"dew":0},{"vd":282,"dew":0},{"vd":285,"dew":0},{"vd":288,"dew":0},{"vd":291,"dew":0},{"vd":294,"dew":0},{"vd":297,"dew":0},{"vd":300,"dew":0},{"vd":303,"dew":0},{"vd":306,"dew":0},{"vd":309,"dew":0},{"vd":312,"dew":0},{"vd":315,"dew":0},{"vd":338,"dew":0}
    ]
  },
  "columns": 2,
  "bounds": "flush",
  "spacing": {"row": 203, "column": 261},
  "resolve": {
    "scale": {"color": "independent", "strokeDash": "independent"},
    "legend": {"color": "independent", "strokeDash": "independent"}
  },
  "concat": [
    {
      "width": 999,
      "height": 794,
      "layer": [
        {
          "data": {"name": "scatterA"},
          "mark": {"type": "circle", "size": 110, "opacity": 1},
          "encoding": {
            "x": {
              "field": "vs", "type": "quantitative",
              "scale": {"domain": [-0.21, 5.026], "nice": false, "zero": false},
              "axis": {
                "values": [0, 0.5, 1, 1.5, 2, 2.5, 3, 3.5, 4, 4.5, 5], "format": ".1f",
                "labelAngle": -45, "labelAlign": "center", "labelBaseline": "middle", "labelPadding": 83, "labelDx": 15,
                "title": "vₛ / m·s⁻¹", "titlePadding": -15
              }
            },
            "y": {
              "field": "dew", "type": "quantitative",
              "scale": {"domain": [-0.052, 0.904], "nice": false, "zero": false},
              "axis": {"values": [0, 0.1, 0.2, 0.3, 0.4, 0.5, 0.6, 0.7, 0.8, 0.9], "format": ".1f", "title": "Quantity of dew/ mm", "titlePadding": 30}
            },
            "color": {
              "datum": "Dew amount", "type": "nominal",
              "scale": {"range": ["black"]},
              "legend": {"title": null, "orient": "none", "legendX": 329, "legendY": 98, "symbolType": "circle", "symbolSize": 110, "symbolFillColor": "black", "symbolStrokeWidth": 0, "labelOffset": 67}
            }
          }
        },
        {
          "data": {"values": [{"vs": 1.1, "series": "Critical wind speed"}]},
          "mark": {"type": "rule", "color": "black", "strokeWidth": 3},
          "encoding": {
            "x": {"field": "vs", "type": "quantitative"},
            "strokeDash": {
              "field": "series", "type": "nominal",
              "scale": {"range": [[11, 8]]},
              "legend": {"title": null, "orient": "none", "legendX": 283, "legendY": -16, "symbolSize": 19300, "symbolStrokeWidth": 3, "symbolStrokeColor": "black", "labelOffset": 32}
            }
          }
        },
        {
          "data": {"values": [{"tag": "a"}]},
          "mark": {"type": "text", "align": "center", "baseline": "alphabetic"},
          "encoding": {"text": {"field": "tag"}, "x": {"datum": 4.81}, "y": {"datum": 0.829}}
        }
      ]
    },
    {
      "width": 993,
      "height": 794,
      "layer": [
        {
          "layer": [
            {
              "data": {"name": "barsB"},
              "mark": {"type": "bar", "stroke": "black", "strokeWidth": 2},
              "encoding": {
                "x": {
                  "field": "range", "type": "nominal", "sort": null,
                  "scale": {"paddingInner": 0.7, "paddingOuter": 0.35},
                  "axis": {
                    "ticks": false, "labelAngle": -25, "labelAlign": "center", "labelBaseline": "middle", "labelPadding": 94,
                    "title": "vₛ / m·s⁻¹", "titleX": 1161, "titleY": 100, "titleAlign": "center", "titleBaseline": "middle", "titleAngle": 0
                  }
                },
                "y": {
                  "field": "days", "type": "quantitative",
                  "scale": {"domain": [0, 750], "nice": false},
                  "axis": {"orient": "left", "values": [0, 150, 300, 450, 600, 750], "title": "Dew days/ d", "titlePadding": 10}
                },
                "color": {
                  "datum": "Dew days", "type": "nominal",
                  "scale": {"domain": ["Dew days", "Percentage"], "range": ["#80d99b", "black"]},
                  "legend": {"title": null, "orient": "none", "legendX": 565, "legendY": 138, "symbolType": "M-2,-0.96H2V0.96H-2Z", "symbolSize": 4692, "symbolStrokeColor": "black", "symbolStrokeWidth": 2, "symbolOpacity": 1, "labelOffset": 51, "rowPadding": 8}
                }
              }
            },
            {
              "data": {"values": [{"tag": "b"}]},
              "mark": {"type": "text", "align": "center", "baseline": "alphabetic", "dx": 59},
              "encoding": {"text": {"field": "tag"}, "x": {"datum": "1.65–4.73"}, "y": {"datum": 666}}
            }
          ]
        },
        {
          "data": {"name": "barsB"},
          "mark": {"type": "bar", "width": 12},
          "encoding": {
            "x": {"field": "range", "type": "nominal", "sort": null},
            "y": {
              "field": "pct", "type": "quantitative",
              "scale": {"domain": [0, 100], "reverse": true, "nice": false},
              "axis": {"orient": "right", "values": [0, 20, 40, 60, 80, 100], "title": "Percentage of dew days/%", "titleAngle": 270, "titleBaseline": "top", "titlePadding": 28}
            },
            "color": {"datum": "Percentage", "type": "nominal"}
          }
        }
      ],
      "resolve": {"scale": {"y": "independent"}}
    },
    {
      "width": 999,
      "height": 790,
      "layer": [
        {
          "data": {"name": "scatterC"},
          "mark": {"type": "circle", "size": 110, "opacity": 1, "color": "black"},
          "encoding": {
            "x": {
              "field": "vd", "type": "quantitative",
              "scale": {"domain": [-15.3, 361.6], "nice": false, "zero": false},
              "axis": {"values": [0, 50, 100, 150, 200, 250, 300, 350], "format": "d", "labelAngle": 0, "title": "vd / °", "titlePadding": 40}
            },
            "y": {
              "field": "dew", "type": "quantitative",
              "scale": {"domain": [-0.052, 0.902], "nice": false, "zero": false},
              "axis": {"values": [0, 0.1, 0.2, 0.3, 0.4, 0.5, 0.6, 0.7, 0.8, 0.9], "format": ".1f", "title": "Quantity of dew/ mm", "titlePadding": 30}
            }
          }
        },
        {
          "data": {"values": [{"tag": "c"}]},
          "mark": {"type": "text", "align": "center", "baseline": "alphabetic"},
          "encoding": {"text": {"field": "tag"}, "x": {"datum": 347}, "y": {"datum": 0.83}}
        }
      ]
    },
    {
      "width": 993,
      "height": 790,
      "layer": [
        {
          "layer": [
            {
              "data": {"name": "barsD"},
              "mark": {"type": "bar", "stroke": "black", "strokeWidth": 2, "color": "#80d99b"},
              "encoding": {
                "x": {
                  "field": "range", "type": "nominal", "sort": null,
                  "scale": {"paddingInner": 0.6, "paddingOuter": 0.3},
                  "axis": {
                    "ticks": false, "labelAngle": 270, "labelAlign": "right", "labelBaseline": "middle", "labelPadding": 23,
                    "title": "vd / °", "titleX": 1083, "titleY": 222, "titleAlign": "center", "titleBaseline": "middle", "titleAngle": 0
                  }
                },
                "y": {
                  "field": "days", "type": "quantitative",
                  "scale": {"domain": [0, 300], "nice": false},
                  "axis": {"orient": "left", "values": [0, 100, 200, 300], "title": "Dew days/ d", "titlePadding": 10}
                }
              }
            },
            {
              "data": {"values": [{"tag": "d"}]},
              "mark": {"type": "text", "align": "center", "baseline": "alphabetic", "dx": 7},
              "encoding": {"text": {"field": "tag"}, "x": {"datum": "300–360"}, "y": {"datum": 269}}
            }
          ]
        },
        {
          "data": {"name": "barsD"},
          "mark": {"type": "bar", "width": 8, "color": "black"},
          "encoding": {
            "x": {"field": "range", "type": "nominal", "sort": null},
            "y": {
              "field": "pct", "type": "quantitative",
              "scale": {"domain": [0, 100], "reverse": true, "nice": false},
              "axis": {"orient": "right", "values": [0, 20, 40, 60, 80, 100], "title": "Percentage of dew days/%", "titleAngle": 270, "titleBaseline": "top", "titlePadding": 28}
            }
          }
        }
      ],
      "resolve": {"scale": {"y": "independent"}}
    }
  ]
}
